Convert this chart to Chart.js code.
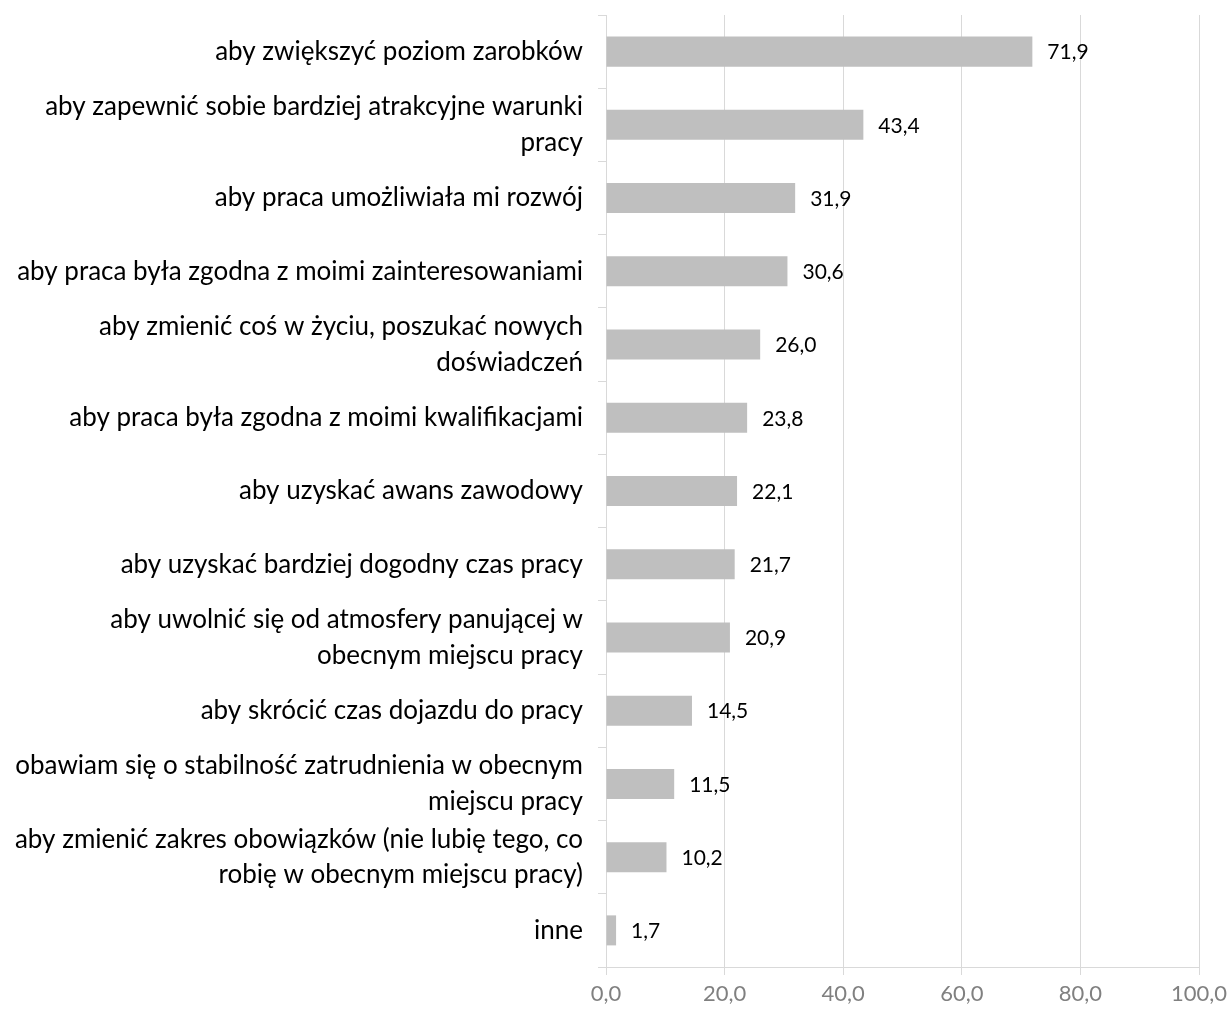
<!DOCTYPE html>
<html lang="pl">
<head>
<meta charset="utf-8">
<script src="https://cdn.jsdelivr.net/npm/chart.js@4/dist/chart.umd.min.js"></script>
<style>
  html, body { margin: 0; padding: 0; background: #ffffff; }
  #wrap { width: 1231px; height: 1012px; }
</style>
</head>
<body>
<div id="wrap"><canvas id="chart" width="1231" height="1012"></canvas></div>
<script>
// Reasons for looking for a new job (% of answers)
const categories = [
  ['aby zwiększyć poziom zarobków'],
  ['aby zapewnić sobie bardziej atrakcyjne warunki', 'pracy'],
  ['aby praca umożliwiała mi rozwój'],
  ['aby praca była zgodna z moimi zainteresowaniami'],
  ['aby zmienić coś w życiu, poszukać nowych', 'doświadczeń'],
  ['aby praca była zgodna z moimi kwalifikacjami'],
  ['aby uzyskać awans zawodowy'],
  ['aby uzyskać bardziej dogodny czas pracy'],
  ['aby uwolnić się od atmosfery panującej w', 'obecnym miejscu pracy'],
  ['aby skrócić czas dojazdu do pracy'],
  ['obawiam się o stabilność zatrudnienia w obecnym', 'miejscu pracy'],
  ['aby zmienić zakres obowiązków (nie lubię tego, co', 'robię w obecnym miejscu pracy)'],
  ['inne']
];
const values = [71.9, 43.4, 31.9, 30.6, 26.0, 23.8, 22.1, 21.7, 20.9, 14.5, 11.5, 10.2, 1.7];
const xTicks = [0, 20, 40, 60, 80, 100];

const fmt = v => v.toFixed(1).replace('.', ',');

// Value labels drawn just past the end of each bar
const valueLabels = {
  id: 'valueLabels',
  afterDatasetsDraw(chart) {
    const ctx = chart.ctx;
    const meta = chart.getDatasetMeta(0);
    ctx.save();
    ctx.font = '21px Lato';
    ctx.fillStyle = '#000000';
    ctx.textAlign = 'left';
    ctx.textBaseline = 'middle';
    meta.data.forEach((bar, i) => {
      ctx.fillText(fmt(values[i]), bar.x + 15, bar.y + 1);
    });
    ctx.restore();
  }
};

new Chart(document.getElementById('chart'), {
  type: 'bar',
  data: {
    labels: categories,
    datasets: [{
      data: values,
      backgroundColor: '#bfbfbf',
      borderWidth: 0,
      barPercentage: 0.41,
      categoryPercentage: 1.0
    }]
  },
  options: {
    indexAxis: 'y',
    responsive: false,
    animation: false,
    layout: { padding: { top: 15, right: 32, bottom: 0, left: 0 } },
    plugins: {
      legend: { display: false },
      tooltip: { enabled: false }
    },
    scales: {
      x: {
        min: 0,
        max: 100,
        afterBuildTicks(scale) {
          scale.ticks = xTicks.map(v => ({ value: v }));
        },
        afterFit(scale) {
          scale.height = 45;
          scale.paddingLeft = 0;
          scale.paddingRight = 0;
        },
        grid: { color: '#d9d9d9', lineWidth: 1, tickLength: 8 },
        border: { color: '#d9d9d9' },
        ticks: {
          padding: 6,
          color: '#808080',
          font: { family: 'Lato', size: 22 },
          callback: v => fmt(v)
        }
      },
      y: {
        afterFit(scale) {
          scale.width = 606;
          scale.paddingTop = 0;
          scale.paddingBottom = 0;
        },
        grid: { drawOnChartArea: false, color: '#d9d9d9', tickLength: 8, offset: true },
        border: { color: '#d9d9d9' },
        ticks: {
          autoSkip: false,
          padding: 15,
          color: '#000000',
          font: { family: 'Lato', size: 26, lineHeight: 1.38 }
        }
      }
    }
  },
  plugins: [valueLabels]
});
</script>
</body>
</html>
